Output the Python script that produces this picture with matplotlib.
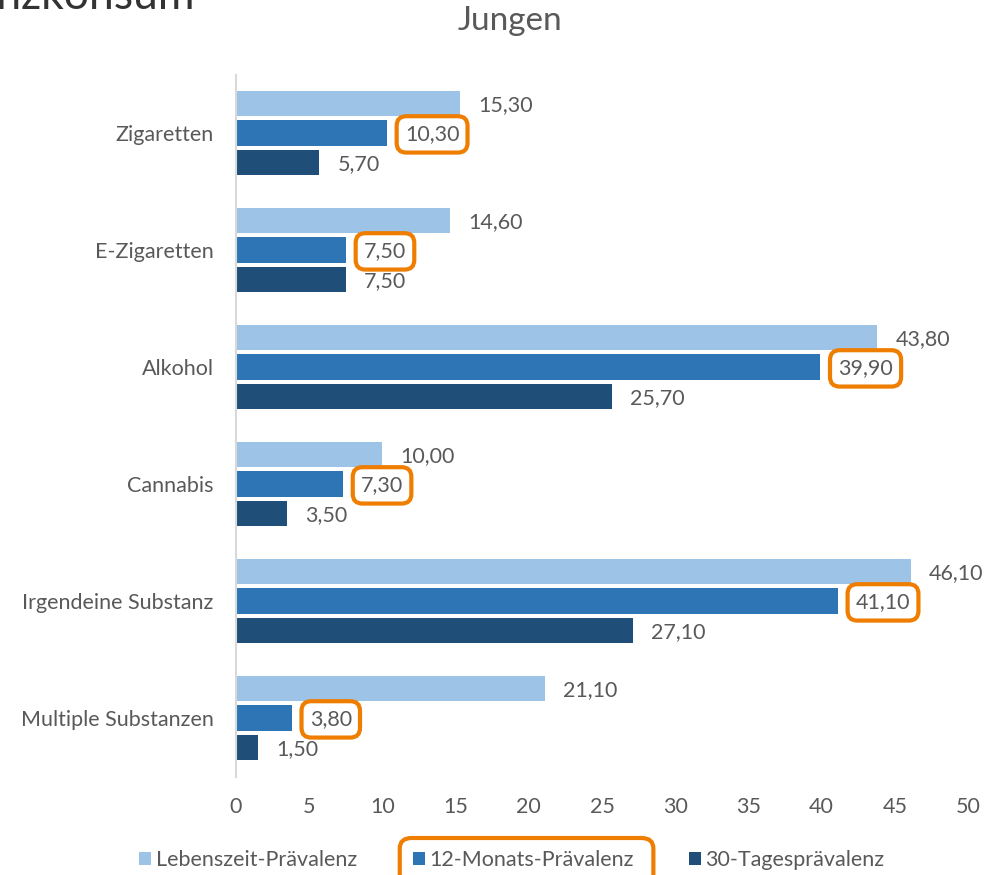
import numpy as np
import matplotlib.pyplot as plt
from matplotlib.patches import Patch, FancyBboxPatch

plt.rcParams['font.family'] = ['Lato', 'DejaVu Sans']

# Prävalenzwerte Jungen (%)
kategorien = ["Zigaretten", "E-Zigaretten", "Alkohol", "Cannabis",
              "Irgendeine Substanz", "Multiple Substanzen"]
lebenszeit = [15.30, 14.60, 43.80, 10.00, 46.10, 21.10]
monats12 = [10.30, 7.50, 39.90, 7.30, 41.10, 3.80]
tage30 = [5.70, 7.50, 25.70, 3.50, 27.10, 1.50]
serien = ["Lebenszeit-Prävalenz", "12-Monats-Prävalenz", "30-Tagesprävalenz"]
farben = ["#9DC3E6", "#2E75B6", "#1F4E79"]
xticks = [0, 5, 10, 15, 20, 25, 30, 35, 40, 45, 50]

TEXT = "#595959"
ORANGE = "#EF7D00"
FS = 15.5

fig = plt.figure(figsize=(9.95, 8.75), dpi=100)
ax = fig.add_axes([236 / 995, 1 - 776.5 / 875, 732 / 995, 702 / 875])

y = np.arange(len(kategorien))
offs = [-0.25, 0.0, 0.25]
h = 0.215

for k, (werte, farbe) in enumerate(zip([lebenszeit, monats12, tage30], farben)):
    bars = ax.barh(y + offs[k], werte, height=h, color=farbe, zorder=2)
    for b, v in zip(bars, werte):
        txt = f"{v:.2f}".replace(".", ",")
        kw = dict(xy=(b.get_width(), b.get_y() + b.get_height() / 2),
                  xytext=(13, -1), textcoords="offset points",
                  ha="left", va="center", fontsize=FS, color=TEXT, zorder=5)
        if k == 1:
            kw["bbox"] = dict(boxstyle="round,pad=0.38,rounding_size=0.45",
                              fc="white", ec=ORANGE, lw=3)
        ax.annotate(txt, **kw)

ax.set_ylim(len(kategorien) - 0.5, -0.5)
ax.set_xlim(0, 50)
ax.set_yticks(y)
ax.set_yticklabels(kategorien)
ax.set_xticks(xticks)
ax.tick_params(axis="both", length=0, labelsize=FS, labelcolor=TEXT)
ax.tick_params(axis="x", pad=15)
ax.tick_params(axis="y", pad=16)
for s in ["top", "right", "bottom"]:
    ax.spines[s].set_visible(False)
ax.spines["left"].set_color("#D9D9D9")
ax.spines["left"].set_linewidth(1.5)

fig.text(510 / 995, 1 - 21 / 875, "Jungen", ha="center", va="center",
         fontsize=24, color=TEXT)
# Überschrift der Folie, oben angeschnitten
fig.text(195 / 995, 1 - 9 / 875, "Substanzkonsum", ha="right", va="baseline",
         fontsize=32, color="#333333")

handles = [Patch(facecolor=c, edgecolor="none") for c in farben]
leg = fig.legend(handles, serien, loc="center", ncol=3,
                 bbox_to_anchor=(512 / 995, 1 - 860 / 875),
                 frameon=False, fontsize=FS, handlelength=0.55, handleheight=0.55,
                 handletextpad=0.2, columnspacing=2.6)
for t in leg.get_texts():
    t.set_color(TEXT)

# Rahmen um den 12-Monats-Eintrag der Legende
fig.canvas.draw()
r = fig.canvas.get_renderer()
hb = leg.legend_handles[1].get_window_extent(r)
tb = leg.get_texts()[1].get_window_extent(r)
x0 = hb.x0 - 13
x1 = tb.x1 + 20
yc = (tb.y0 + tb.y1) / 2
W, H = fig.bbox.width, fig.bbox.height
box = FancyBboxPatch((x0 / W, (yc - 60) / H), (x1 - x0) / W, 82 / H,
                     boxstyle="round,pad=0,rounding_size=0.012",
                     transform=fig.transFigure, fc="none", ec=ORANGE, lw=3,
                     clip_on=False)
fig.add_artist(box)

fig.savefig("out.png", dpi=100)
